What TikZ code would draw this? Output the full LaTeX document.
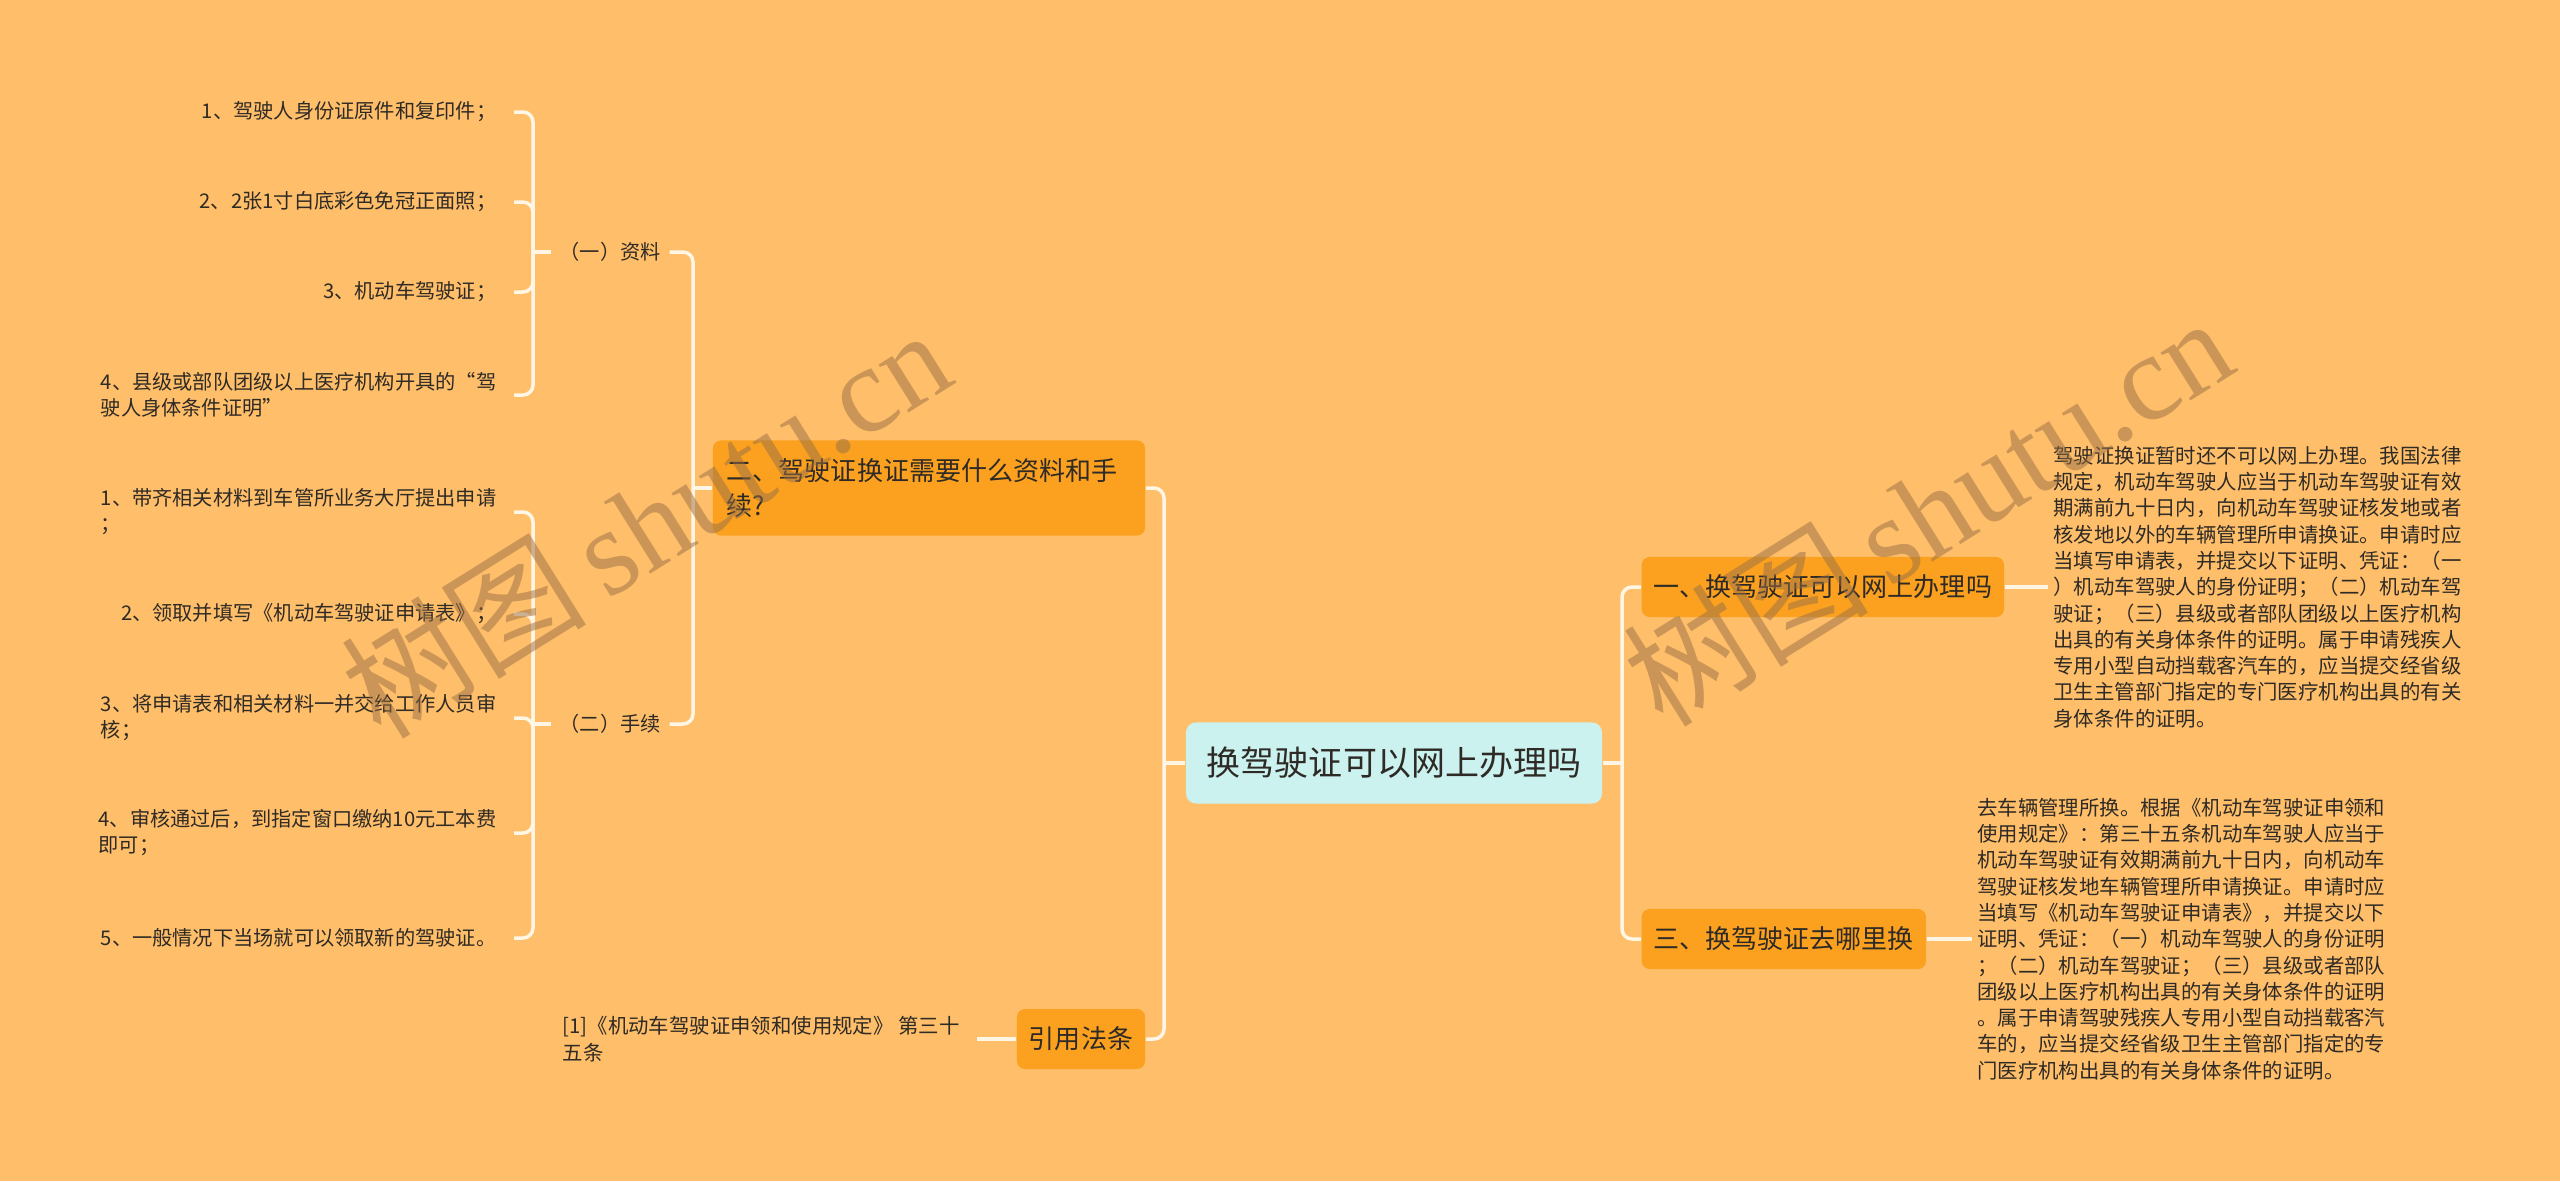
\documentclass[tikz,border=0pt]{standalone}
\usepackage{fontspec}
\setmainfont{Noto Sans CJK SC}
\newfontfamily\wmserif{Liberation Serif}
\usetikzlibrary{positioning}
\definecolor{bgorange}{HTML}{FFBE69}
\definecolor{nodeorange}{HTML}{FBA11F}
\definecolor{rootcyan}{HTML}{CCF2EF}
\definecolor{linkwhite}{HTML}{FFF6E6}
\definecolor{inkdark}{HTML}{2E2A25}
\definecolor{wmbrown}{RGB}{150,110,70}

\begin{document}
\begin{tikzpicture}[
  x=0.01cm, y=-0.01cm,
  root/.style={rectangle, rounded corners=0.1cm, fill=rootcyan, text=inkdark, minimum height=0.81cm, inner xsep=0.21cm, font=\fontsize{9.67pt}{11pt}\selectfont},
  topic/.style={rectangle, rounded corners=0.08cm, fill=nodeorange, text=inkdark, minimum height=0.6cm, inner xsep=0.12cm, font=\fontsize{7.4pt}{9.96pt}\selectfont},
  leaf/.style={text=inkdark, inner xsep=0.17cm, inner ysep=0pt, align=left, font=\fontsize{5.75pt}{7.4pt}\selectfont},
  note/.style={text=inkdark, inner xsep=0.05cm, align=left, font=\fontsize{5.8pt}{7.48pt}\selectfont},
  link/.style={draw=linkwhite, line width=0.035cm, rounded corners=0.1cm},
  wmtext/.style={text=wmbrown, text opacity=0.5, rotate=32, font=\fontsize{35pt}{38pt}\selectfont}
]
\fill[bgorange] (0,0) rectangle (2560,1181);
\useasboundingbox (0,0) rectangle (2560,1181);

\node[root] (root) at (1394,763) {换驾驶证可以网上办理吗};

\node[topic, anchor=west] (q1) at (1641,587) {一、换驾驶证可以网上办理吗};
\node[topic, anchor=west] (q3) at (1641,939) {三、换驾驶证去哪里换};
\node[topic, text width=4.04cm, minimum height=0.95cm, inner xsep=0.14cm, align=left] (q2) at (929,488) {二、驾驶证换证需要什么资料和手\\续?};
\node[topic] (law) at (1081,1039) {引用法条};

\node[note, right=0.43cm of q1] (a1) {驾驶证换证暂时还不可以网上办理。我国法律\\规定，机动车驾驶人应当于机动车驾驶证有效\\期满前九十日内，向机动车驾驶证核发地或者\\核发地以外的车辆管理所申请换证。申请时应\\当填写申请表，并提交以下证明、凭证：（一\\）机动车驾驶人的身份证明；（二）机动车驾\\驶证；（三）县级或者部队团级以上医疗机构\\出具的有关身体条件的证明。属于申请残疾人\\专用小型自动挡载客汽车的，应当提交经省级\\卫生主管部门指定的专门医疗机构出具的有关\\身体条件的证明。};
\node[note, right=0.45cm of q3] (a3) {去车辆管理所换。根据《机动车驾驶证申领和\\使用规定》：第三十五条机动车驾驶人应当于\\机动车驾驶证有效期满前九十日内，向机动车\\驾驶证核发地车辆管理所申请换证。申请时应\\当填写《机动车驾驶证申请表》，并提交以下\\证明、凭证：（一）机动车驾驶人的身份证明\\；（二）机动车驾驶证；（三）县级或者部队\\团级以上医疗机构出具的有关身体条件的证明\\。属于申请驾驶残疾人专用小型自动挡载客汽\\车的，应当提交经省级卫生主管部门指定的专\\门医疗机构出具的有关身体条件的证明。};
\node[note, inner xsep=0.17cm, left=0.39cm of law] (lawtext) {[1]《机动车驾驶证申领和使用规定》 第三十\\五条};

\node[leaf, anchor=west, inner xsep=0.08cm] (c1) at (551,252) {（一）资料};
\node[leaf, anchor=west, inner xsep=0.08cm] (c2) at (551,724) {（二）手续};

\node[leaf, anchor=east] (c1a) at (514,112) {1、驾驶人身份证原件和复印件；};
\node[leaf, anchor=east] (c1b) at (514,202) {2、2张1寸白底彩色免冠正面照；};
\node[leaf, anchor=east] (c1c) at (514,292) {3、机动车驾驶证；};
\node[leaf, anchor=east] (c1d) at (514,395) {4、县级或部队团级以上医疗机构开具的“驾\\驶人身体条件证明”};

\node[leaf, anchor=east] (c2a) at (514,512) {1、带齐相关材料到车管所业务大厅提出申请\\；};
\node[leaf, anchor=east] (c2b) at (514,614) {2、领取并填写《机动车驾驶证申请表》；};
\node[leaf, anchor=east] (c2c) at (514,718) {3、将申请表和相关材料一并交给工作人员审\\核；};
\node[leaf, anchor=east] (c2d) at (514,833) {4、审核通过后，到指定窗口缴纳10元工本费\\即可；};
\node[leaf, anchor=east] (c2e) at (514,938) {5、一般情况下当场就可以领取新的驾驶证。};

\coordinate (rfork) at (1622,763);
\coordinate (lfork) at (1164,763);
\coordinate (qfork) at (693,488);
\coordinate (c1fork) at (533,252);
\coordinate (c2fork) at (533,724);

\draw[link] (root.east) -- (rfork);
\draw[link] (q1.west) -| (rfork);
\draw[link] (q3.west) -| (rfork);
\draw[link] (root.west) -- (lfork);
\draw[link] (q2.east) -| (lfork);
\draw[link] (law.east) -| (lfork);
\draw[link] (q1.east) -- (a1.west);
\draw[link] (q3.east) -- (a3.west);
\draw[link] (law.west) -- (lawtext.east);
\draw[link] (q2.west) -- (qfork);
\draw[link] (c1.east) -| (qfork);
\draw[link] (c2.east) -| (qfork);
\draw[link] (c1.west) -- (c1fork);
\draw[link] (c2.west) -- (c2fork);
\foreach \k in {c1a,c1b,c1c,c1d}
  \draw[link] (\k.east) -| (c1fork);
\foreach \k in {c2a,c2b,c2c,c2d,c2e}
  \draw[link] (\k.east) -| (c2fork);

\node[wmtext] (wm1) at (645,522) {树图\,{\wmserif shutu.cn}};
\node[wmtext] (wm2) at (1927,510) {树图\,{\wmserif shutu.cn}};
\end{tikzpicture}
\end{document}
